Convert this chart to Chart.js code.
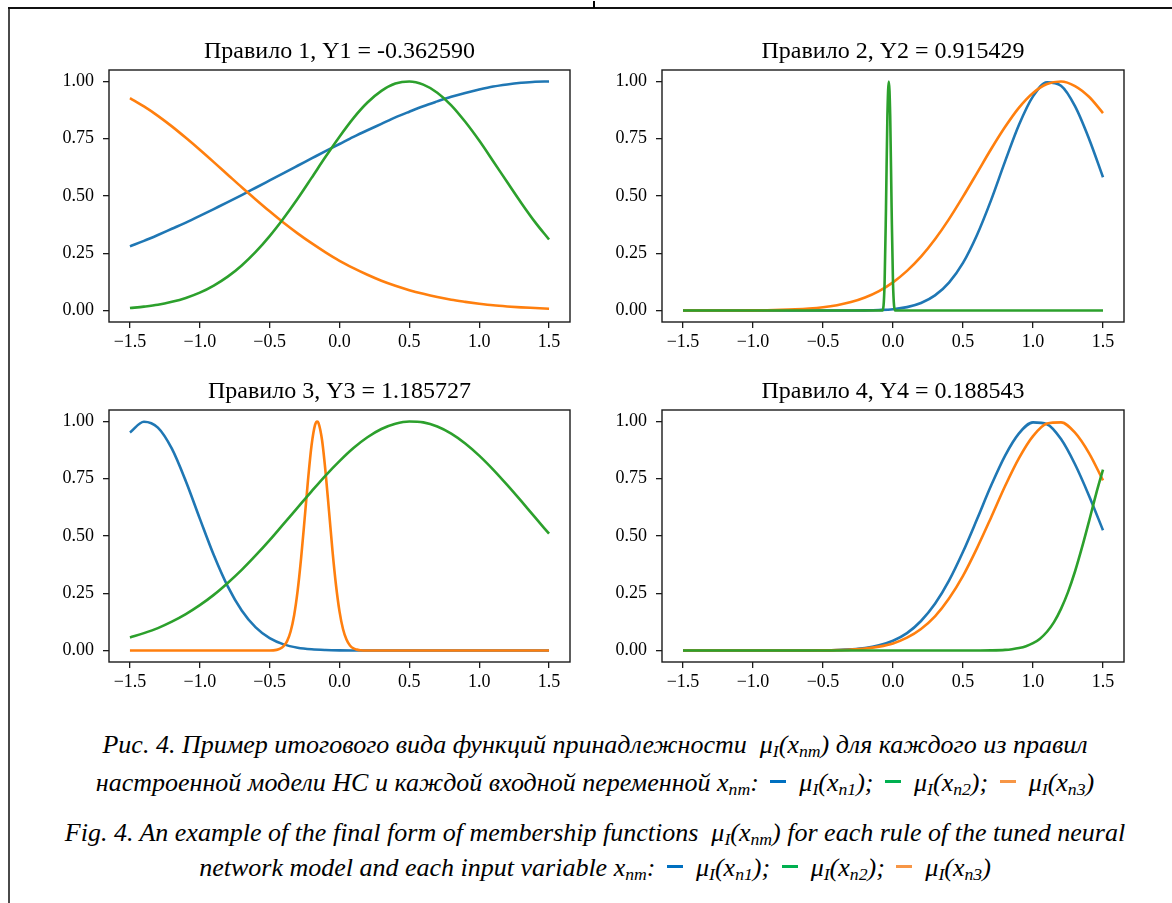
<!DOCTYPE html>
<html>
<head>
<meta charset="utf-8">
<script src="https://cdn.jsdelivr.net/npm/chart.js@4.4.1/dist/chart.umd.min.js"></script>
<style>
  html, body { margin: 0; padding: 0; background: #fff; }
  body { width: 1172px; height: 903px; position: relative; overflow: hidden; }
  canvas { position: absolute; }
  .frame { position: absolute; }
  .cap { position: absolute; left: 20px; width: 1150px; text-align: center; white-space: nowrap;
         font-family: "Liberation Serif", "Times New Roman", serif; font-style: italic; font-size: 26px;
         line-height: 30px; color: #000; }
  .cap sub { font-size: 0.68em; vertical-align: -0.22em; line-height: 0; }
  .dash { display: inline-block; width: 16px; height: 3px; vertical-align: 0.3em; margin: 0 13px 0 5px; }
</style>
</head>
<body>
<div class="frame" style="left:8px;top:7px;width:2px;height:896px;background:#4a4a4a;"></div>
<div class="frame" style="left:8px;top:7px;width:1164px;height:2px;background:#111;"></div>
<div class="frame" style="left:593px;top:1px;width:2px;height:7px;background:#000;"></div>

<canvas id="c1" width="542" height="342" style="left:38px;top:20px;"></canvas>
<canvas id="c2" width="543" height="342" style="left:591px;top:20px;"></canvas>
<canvas id="c3" width="542" height="342" style="left:38px;top:360px;"></canvas>
<canvas id="c4" width="543" height="342" style="left:591px;top:360px;"></canvas>

<div class="cap" style="top:730px;">Рис. 4. Пример итогового вида функций принадлежности&nbsp; μ<sub>I</sub>(x<sub>nm</sub>) для каждого из правил</div>
<div class="cap" style="top:768px;">настроенной модели НС и каждой входной переменной x<sub>nm</sub>: <span class="dash" style="background:#0070c0"></span>μ<sub>I</sub>(x<sub>n1</sub>); <span class="dash" style="background:#00b050"></span>μ<sub>I</sub>(x<sub>n2</sub>); <span class="dash" style="background:#f79646"></span>μ<sub>I</sub>(x<sub>n3</sub>)</div>
<div class="cap" style="top:818px;">Fig. 4. An example of the final form of membership functions&nbsp; μ<sub>I</sub>(x<sub>nm</sub>) for each rule of the tuned neural</div>
<div class="cap" style="top:853px;">network model and each input variable x<sub>nm</sub>: <span class="dash" style="background:#0070c0"></span>μ<sub>I</sub>(x<sub>n1</sub>); <span class="dash" style="background:#00b050"></span>μ<sub>I</sub>(x<sub>n2</sub>); <span class="dash" style="background:#f79646"></span>μ<sub>I</sub>(x<sub>n3</sub>)</div>

<script>
// ---------- data ----------
const titles = [
  "Правило 1, Y1 = -0.362590",
  "Правило 2, Y2 = 0.915429",
  "Правило 3, Y3 = 1.185727",
  "Правило 4, Y4 = 0.188543"
];
const xTickValues = [-1.5, -1.0, -0.5, 0.0, 0.5, 1.0, 1.5];
const yTickValues = [0.0, 0.25, 0.5, 0.75, 1.0];

const xGrid = [-1.5,-1.4,-1.3,-1.2,-1.1,-1.0,-0.9,-0.8,-0.7,-0.6,-0.5,-0.4,-0.3,-0.2,-0.1,0.0,
               0.1,0.2,0.3,0.4,0.5,0.6,0.7,0.8,0.9,1.0,1.1,1.2,1.3,1.4,1.5];

// Rule 1
const r1Blue   = [0.280,0.304,0.330,0.357,0.384,0.413,0.443,0.473,0.504,0.536,0.568,0.600,0.632,0.664,0.696,0.727,
                  0.758,0.787,0.815,0.843,0.868,0.892,0.913,0.933,0.950,0.965,0.978,0.987,0.994,0.999,1.000];
const r1Orange = [0.927,0.891,0.850,0.804,0.754,0.702,0.648,0.593,0.538,0.485,0.433,0.383,0.337,0.294,0.254,0.217,
                  0.185,0.156,0.130,0.108,0.089,0.073,0.059,0.047,0.038,0.030,0.023,0.018,0.014,0.011,0.008];
const r1Green  = [0.011,0.017,0.025,0.038,0.055,0.078,0.109,0.148,0.197,0.256,0.325,0.403,0.488,0.579,0.671,0.759,
                  0.840,0.908,0.959,0.991,1.000,0.986,0.951,0.896,0.824,0.742,0.652,0.561,0.471,0.386,0.310];

// Rule 2
const r2Blue   = [0,0,0,0,0,0,0,0,0,0,0,0.0001,0.0003,0.0009,0.0025,0.006,
                  0.015,0.033,0.066,0.122,0.208,0.330,0.481,0.650,0.811,0.935,0.996,0.981,0.892,0.750,0.582];
const r2Orange = [0,0,0.0001,0.0002,0.0004,0.0008,0.0015,0.0028,0.005,0.0086,0.0144,0.0235,0.037,0.057,0.085,0.123,
                  0.173,0.235,0.311,0.399,0.497,0.600,0.704,0.801,0.886,0.950,0.989,1.000,0.980,0.933,0.862];
const r2GreenX = [-1.5,-0.075,-0.06,-0.05,-0.04,-0.03,-0.02,-0.01,0.0,0.015,1.5];
const r2Green  = [0,0,0.12,0.45,0.85,1.0,0.85,0.45,0.12,0,0];

// Rule 3
const r3Blue   = [0.952,0.999,0.973,0.881,0.739,0.576,0.417,0.280,0.175,0.101,0.054,0.027,0.0126,0.0054,0.0022,0.0008,
                  0.0003,0.0001,0,0,0,0,0,0,0,0,0,0,0,0,0];
const r3Green  = [0.057,0.076,0.098,0.126,0.159,0.198,0.243,0.295,0.352,0.415,0.482,0.553,0.624,0.695,0.764,0.827,
                  0.884,0.931,0.967,0.990,1.000,0.996,0.978,0.947,0.904,0.851,0.790,0.723,0.653,0.581,0.510];
const r3OrangeX = [-1.5,-0.5,-0.45,-0.425,-0.4,-0.375,-0.35,-0.325,-0.3,-0.275,-0.25,-0.225,-0.2,-0.175,-0.16,-0.15,
                   -0.125,-0.1,-0.075,-0.05,-0.025,0.0,0.025,0.05,0.075,0.1,0.125,0.15,0.2,1.5];
const r3Orange  = [0,0.0003,0.003,0.008,0.019,0.041,0.083,0.153,0.259,0.402,0.572,0.747,0.896,0.985,1.0,0.993,
                   0.919,0.780,0.608,0.434,0.285,0.171,0.094,0.048,0.022,0.009,0.004,0.001,0,0];

// Rule 4
const r4Blue   = [0,0,0,0,0,0,0,0,0.0001,0.0004,0.001,0.0023,0.0053,0.011,0.023,0.043,
                  0.076,0.129,0.204,0.305,0.431,0.573,0.719,0.850,0.948,0.996,0.988,0.923,0.813,0.676,0.525];
const r4Orange = [0,0,0,0,0,0,0,0,0.0001,0.0003,0.0008,0.0019,0.0042,0.0086,0.017,0.031,
                  0.056,0.094,0.149,0.227,0.326,0.447,0.580,0.717,0.840,0.936,0.991,0.996,0.951,0.862,0.743];
const r4GreenX = [-1.5,0.5,0.6,0.7,0.8,0.85,0.9,0.95,1.0,1.05,1.1,1.15,1.2,1.25,1.3,1.35,1.4,1.45,1.5];
const r4Green  = [0,0,0.0002,0.0008,0.003,0.006,0.011,0.019,0.032,0.052,0.082,0.124,0.182,0.255,0.345,0.450,0.564,0.682,0.790];

// ---------- styling ----------
const C_BLUE = '#1f77b4', C_ORANGE = '#ff7f0e', C_GREEN = '#2ca02c';
const FONT = '"Liberation Serif", "Times New Roman", serif';

function pts(xs, ys) { return ys.map((y, i) => ({ x: xs[i], y: y })); }
function fmtX(v) { const s = Number(v).toFixed(1); return s.startsWith('-') ? '\u2212' + s.slice(1) : s; }

const boxPlugin = {
  id: 'axesBox',
  afterDatasetsDraw(chart) {
    const { ctx, chartArea: a } = chart;
    ctx.save();
    ctx.strokeStyle = '#1a1a1a';
    ctx.lineWidth = 1.4;
    ctx.strokeRect(a.left, a.top, a.right - a.left, a.bottom - a.top);
    ctx.restore();
  }
};

// title centred over the plotting area (as matplotlib does)
const axTitlePlugin = {
  id: 'axTitle',
  afterDraw(chart, args, opts) {
    const { ctx, chartArea: a } = chart;
    ctx.save();
    ctx.fillStyle = '#000';
    ctx.font = '24px ' + FONT;
    ctx.textAlign = 'center';
    ctx.textBaseline = 'alphabetic';
    ctx.fillText(opts.text, (a.left + a.right) / 2, a.top - 12);
    ctx.restore();
  }
};

function makeChart(id, title, blue, orange, green) {
  const line = (data, color) => ({
    data: data, borderColor: color, backgroundColor: color, borderWidth: 2.6,
    pointRadius: 0, fill: false, cubicInterpolationMode: 'monotone'
  });
  new Chart(document.getElementById(id), {
    type: 'line',
    data: { datasets: [ line(green, C_GREEN), line(orange, C_ORANGE), line(blue, C_BLUE) ] },
    options: {
      responsive: false, animation: false, devicePixelRatio: 1,
      layout: { padding: { left: 0, right: 10, top: 50, bottom: 0 } },
      plugins: {
        legend: { display: false }, tooltip: { enabled: false }, title: { display: false },
        axTitle: { text: title }
      },
      scales: {
        x: {
          type: 'linear', min: -1.65, max: 1.65,
          afterFit: s => { s.height = 40; },
          afterBuildTicks: s => { s.ticks = xTickValues.map(v => ({ value: v })); },
          ticks: { callback: v => fmtX(v), color: '#000', padding: 3, maxRotation: 0,
                   font: { family: FONT, size: 18 } },
          grid: { display: true, drawOnChartArea: false, drawTicks: true, tickLength: 6,
                  color: '#1a1a1a', lineWidth: 1.3 },
          border: { display: false }
        },
        y: {
          type: 'linear', min: -0.05, max: 1.05,
          afterFit: s => { s.width = 71; },
          afterBuildTicks: s => { s.ticks = yTickValues.map(v => ({ value: v })); },
          ticks: { callback: v => Number(v).toFixed(2), color: '#000', padding: 9,
                   font: { family: FONT, size: 18 } },
          grid: { display: true, drawOnChartArea: false, drawTicks: true, tickLength: 6,
                  color: '#1a1a1a', lineWidth: 1.3 },
          border: { display: false }
        }
      }
    },
    plugins: [boxPlugin, axTitlePlugin]
  });
}

makeChart('c1', titles[0], pts(xGrid, r1Blue), pts(xGrid, r1Orange), pts(xGrid, r1Green));
makeChart('c2', titles[1], pts(xGrid, r2Blue), pts(xGrid, r2Orange), pts(r2GreenX, r2Green));
makeChart('c3', titles[2], pts(xGrid, r3Blue), pts(r3OrangeX, r3Orange), pts(xGrid, r3Green));
makeChart('c4', titles[3], pts(xGrid, r4Blue), pts(xGrid, r4Orange), pts(r4GreenX, r4Green));
</script>
</body>
</html>
